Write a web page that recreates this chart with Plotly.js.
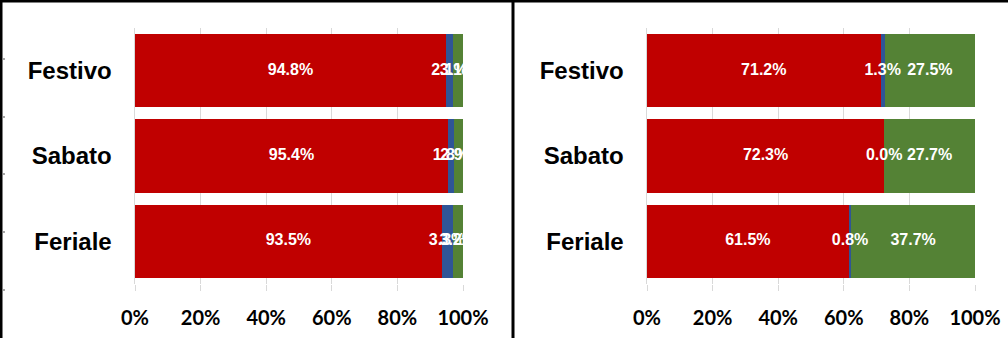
<!DOCTYPE html>
<html>
<head>
<meta charset="utf-8">
<script src="https://cdn.plot.ly/plotly-3.0.1.min.js"></script>
<style>
html,body{margin:0;padding:0;background:#fff;}
#chart{width:1008px;height:338px;}
</style>
</head>
<body>
<div id="chart"></div>
<script>
var categories = ['Feriale', 'Sabato', 'Festivo'];
var leftRed = [93.5, 95.4, 94.8];
var leftBlue = [3.3, 1.8, 2.1];
var leftGreen = [3.2, 2.9, 3.1];
var rightRed = [61.5, 72.3, 71.2];
var rightBlue = [0.8, 0.0, 1.3];
var rightGreen = [37.7, 27.7, 27.5];
var tickVals = [0, 20, 40, 60, 80, 100];
var tickText = ['0%', '20%', '40%', '60%', '80%', '100%'];

var RED = '#C00000', BLUE = '#2F5597', GREEN = '#548235';

function bar(vals, color, xa, ya) {
  return {
    type: 'bar', orientation: 'h', y: categories, x: vals,
    xaxis: xa, yaxis: ya,
    marker: {color: color, line: {width: 0}},
    hoverinfo: 'skip', showlegend: false
  };
}
// label trace: placed at the middle of each stacked segment, in data units
function labels(base, vals, xa, ya) {
  var xs = vals.map(function (v, i) { return base[i] + v / 2; });
  return {
    type: 'scatter', mode: 'text', y: categories, x: xs,
    xaxis: xa, yaxis: ya, cliponaxis: true,
    text: vals.map(function (v) { return v.toFixed(1) + '%'; }),
    textposition: 'middle center',
    textfont: {family: 'Liberation Sans, Arial, sans-serif', size: 16, color: '#ffffff', weight: 'bold'},
    hoverinfo: 'skip', showlegend: false
  };
}
function panel(red, blue, green, xa, ya) {
  var zero = red.map(function () { return 0; });
  var b2 = red.slice();
  var b3 = red.map(function (r, i) { return r + blue[i]; });
  return [
    bar(red, RED, xa, ya), bar(blue, BLUE, xa, ya), bar(green, GREEN, xa, ya),
    labels(zero, red, xa, ya), labels(b2, blue, xa, ya), labels(b3, green, xa, ya)
  ];
}

var data = panel(leftRed, leftBlue, leftGreen, 'x', 'y')
  .concat(panel(rightRed, rightBlue, rightGreen, 'x2', 'y2'));

var yDom = [1 - 284/338, 1 - 28/338];

function xax(dom, anchor) {
  return {
    domain: dom, anchor: anchor, range: [0, 100], fixedrange: true,
    tickvals: tickVals, ticktext: tickText,
    showgrid: true, gridcolor: '#D9D9D9', gridwidth: 1,
    zeroline: false, showline: false,
    ticks: 'outside', ticklen: 6, tickcolor: '#D9D9D9', tickwidth: 1,
    ticklabelstandoff: 10,
    tickfont: {family: 'Lato, Carlito, sans-serif', size: 20, color: '#000', weight: 'bold'}
  };
}
function yax(anchor) {
  return {
    domain: yDom, anchor: anchor, type: 'category', range: [-0.5, 2.5], fixedrange: true,
    showline: true, linecolor: '#D9D9D9', linewidth: 1.5,
    showgrid: false, zeroline: false, ticks: '',
    ticklabelstandoff: 17,
    tickfont: {family: 'Liberation Sans, Arial, sans-serif', size: 24, color: '#000', weight: 'bold'}
  };
}

var shapes = [
  {type: 'line', xref: 'paper', yref: 'paper', x0: 0, x1: 1, y0: 1 - 1/338, y1: 1 - 1/338, line: {color: '#000', width: 3}},
  {type: 'line', xref: 'paper', yref: 'paper', x0: 1/1008, x1: 1/1008, y0: 0, y1: 1, line: {color: '#000', width: 3}},
  {type: 'line', xref: 'paper', yref: 'paper', x0: 513/1008, x1: 513/1008, y0: 0, y1: 1, line: {color: '#000', width: 3}}
];
[59, 117, 174, 232, 290].forEach(function (py) {
  shapes.push({type: 'line', xref: 'paper', yref: 'paper', x0: 2.5/1008, x1: 5/1008,
    y0: 1 - py/338, y1: 1 - py/338, line: {color: '#888', width: 1.5}});
});

var layout = {
  width: 1008, height: 338,
  margin: {l: 0, r: 0, t: 0, b: 0},
  paper_bgcolor: '#fff', plot_bgcolor: '#fff',
  barmode: 'stack', bargap: 0.14,
  showlegend: false,
  xaxis: xax([135/1008, 463/1008], 'y'),
  yaxis: yax('x'),
  xaxis2: xax([647/1008, 975/1008], 'y2'),
  yaxis2: yax('x2'),
  shapes: shapes
};

Plotly.newPlot('chart', data, layout, {displayModeBar: false, staticPlot: true});
</script>
</body>
</html>
